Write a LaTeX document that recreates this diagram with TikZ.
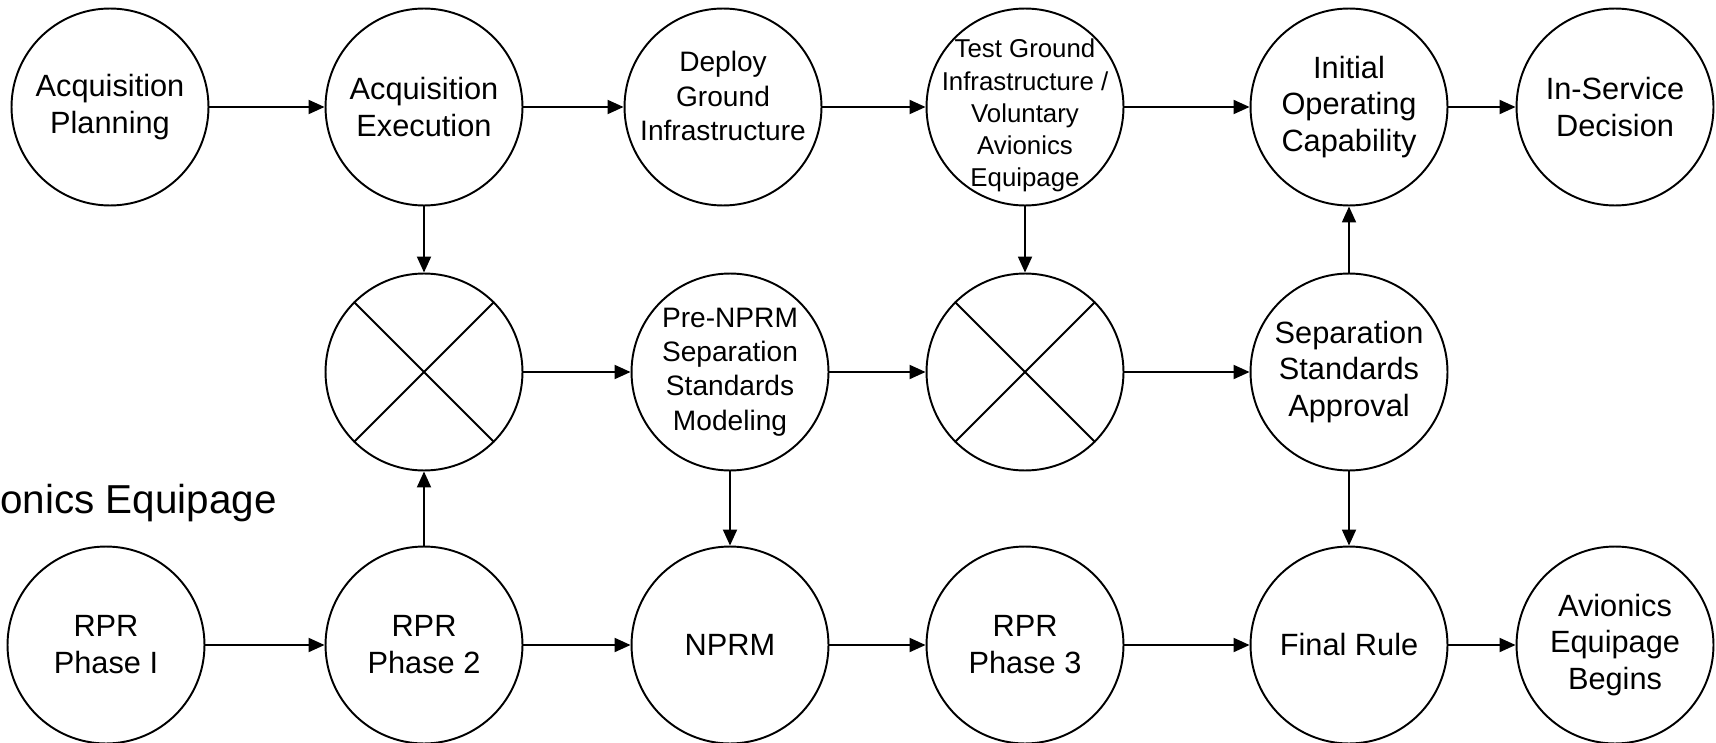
\documentclass[tikz,border=0pt]{standalone}
\usepackage{fontspec}
\setmainfont{Liberation Sans}
\usetikzlibrary{arrows.meta}

\begin{document}
\begin{tikzpicture}[x=0.02cm, y=-0.02cm,
    stage/.style={circle, draw, line width=1.1pt, minimum size=3.94cm, inner sep=0pt,
      align=center, font=\fontsize{17.5pt}{21pt}\selectfont},
    midtext/.style={align=center, inner sep=0pt, font=\fontsize{16pt}{19.5pt}\selectfont},
    smalltext/.style={align=center, inner sep=0pt, font=\fontsize{14.7pt}{18.3pt}\selectfont},
    flow/.style={-{Triangle[length=0.32cm, width=0.28cm]}, line width=1.1pt}]
  \useasboundingbox (0,0) rectangle (1716,743);

  % top row
  \node[stage] (acqplan) at (110,107) {Acquisition\\Planning};
  \node[stage] (acqexec) at (424,107) {Acquisition\\Execution};
  \node[stage] (deploy) at (723,107) {};
  \node[midtext] (deploytxt) at ([yshift=0.22cm]deploy.center) {Deploy\\Ground\\Infrastructure};
  \node[stage] (testground) at (1025,107) {};
  \node[smalltext] (testtxt) at ([yshift=-0.17cm]testground.center) {Test Ground\\Infrastructure /\\Voluntary\\Avionics\\Equipage};
  \node[stage] (ioc) at (1349,107) {Initial\\Operating\\Capability};
  \node[stage] (isd) at (1615,107) {In-Service\\Decision};

  % middle row
  \node[stage] (merge1) at (424,372) {};
  \draw[line width=1.1pt] (merge1.north west) -- (merge1.south east)
    (merge1.north east) -- (merge1.south west);
  \node[stage, font=\fontsize{16pt}{19.5pt}\selectfont] (prenprm) at (730,372) {Pre-NPRM\\Separation\\Standards\\Modeling};
  \node[stage] (merge2) at (1025,372) {};
  \draw[line width=1.1pt] (merge2.north west) -- (merge2.south east)
    (merge2.north east) -- (merge2.south west);
  \node[stage] (sepapp) at (1349,372) {Separation\\Standards\\Approval};

  % bottom row
  \node[stage] (rpr1) at (106,645) {RPR\\Phase I};
  \node[stage] (rpr2) at (424,645) {RPR\\Phase 2};
  \node[stage] (nprm) at (730,645) {NPRM};
  \node[stage] (rpr3) at (1025,645) {RPR\\Phase 3};
  \node[stage] (finalrule) at (1349,645) {Final Rule};
  \node[stage] (equip) at (1615,645) {Avionics\\Equipage\\Begins};

  % title, cut off at the left edge
  \begin{scope}
    \clip (0,0) rectangle (1716,743);
    \node[anchor=base east, inner sep=0pt, font=\fontsize{23pt}{27pt}\selectfont] (equiptitle) at (277,513) {Avionics Equipage};
  \end{scope}

  % connectors
  \draw[flow] (acqplan) -- (acqexec);
  \draw[flow] (acqexec) -- (deploy);
  \draw[flow] (deploy) -- (testground);
  \draw[flow] (testground) -- (ioc);
  \draw[flow] (ioc) -- (isd);
  \draw[flow] (acqexec) -- (merge1);
  \draw[flow] (rpr2) -- (merge1);
  \draw[flow] (merge1) -- (prenprm);
  \draw[flow] (prenprm) -- (merge2);
  \draw[flow] (testground) -- (merge2);
  \draw[flow] (merge2) -- (sepapp);
  \draw[flow] (sepapp) -- (ioc);
  \draw[flow] (prenprm) -- (nprm);
  \draw[flow] (sepapp) -- (finalrule);
  \draw[flow] (rpr1) -- (rpr2);
  \draw[flow] (rpr2) -- (nprm);
  \draw[flow] (nprm) -- (rpr3);
  \draw[flow] (rpr3) -- (finalrule);
  \draw[flow] (finalrule) -- (equip);
\end{tikzpicture}
\end{document}
